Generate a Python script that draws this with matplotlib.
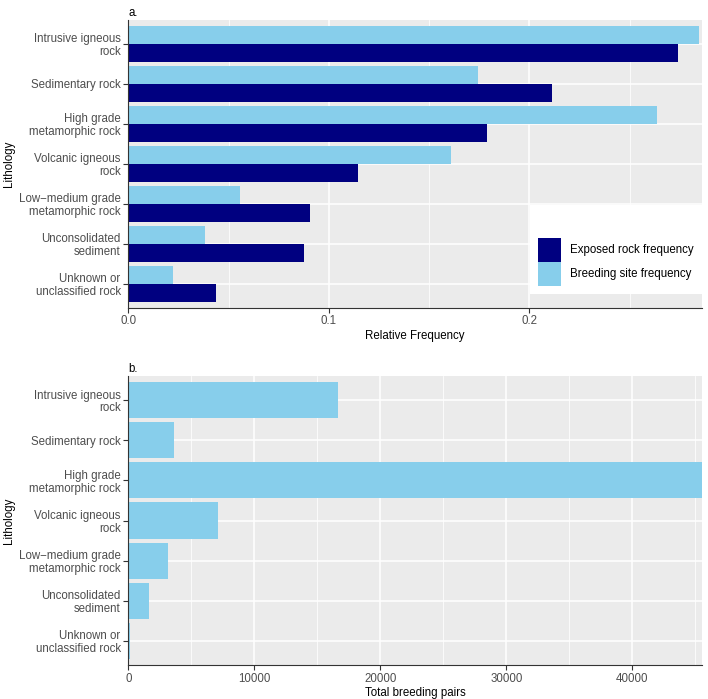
import matplotlib
matplotlib.use("Agg")
import matplotlib.pyplot as plt
import numpy as np
from matplotlib.patches import Rectangle
from matplotlib.ticker import MultipleLocator

lithology = [
    "Intrusive igneous\nrock",
    "Sedimentary rock",
    "High grade\nmetamorphic rock",
    "Volcanic igneous\nrock",
    "Low\u2212medium grade\nmetamorphic rock",
    "Unconsolidated\nsediment",
    "Unknown or\nunclassified rock",
]
exposed_freq = [0.2743, 0.2112, 0.1790, 0.1146, 0.0905, 0.0875, 0.0439]
breeding_freq = [0.2849, 0.1743, 0.2637, 0.1610, 0.0557, 0.0381, 0.0223]
breeding_pairs = [16620, 3650, 45500, 7095, 3130, 1620, 135]
legend_labels = ["Exposed rock frequency", "Breeding site frequency"]

NAVY = "#000080"
SKY = "#87CEEB"
BG = "#EBEBEB"
TXT = "#4D4D4D"
FS = 8.3

plt.rcParams.update({
    "font.family": ["Liberation Sans", "DejaVu Sans"],
    "font.size": FS,
})

W, H = 708, 699
fig = plt.figure(figsize=(W / 100, H / 100), dpi=100)


def box(x0, y0, x1, y1):
    return [x0 / W, 1 - y1 / H, (x1 - x0) / W, (y1 - y0) / H]


def style(ax, xmax, major, minor, fmt):
    ax.set_facecolor(BG)
    for s in ["top", "right"]:
        ax.spines[s].set_visible(False)
    for s in ["left", "bottom"]:
        ax.spines[s].set_color("#333333")
        ax.spines[s].set_linewidth(0.8)
    ax.set_xlim(0, xmax)
    ax.set_ylim(len(lithology) - 0.4, -0.6)
    ax.xaxis.set_major_locator(MultipleLocator(major))
    ax.xaxis.set_minor_locator(MultipleLocator(minor))
    ax.xaxis.set_major_formatter(fmt)
    ax.set_yticks(range(len(lithology)))
    ax.set_yticklabels(lithology, linespacing=1.08)
    ax.grid(which="major", color="white", lw=1.1)
    ax.grid(which="minor", axis="x", color="white", lw=0.55)
    ax.set_axisbelow(True)
    ax.tick_params(which="major", length=3.5, width=0.8, color="#333333",
                   labelcolor=TXT, labelsize=FS, pad=2)
    ax.tick_params(which="minor", length=0)
    ax.set_ylabel("Lithology", fontsize=FS)
    ax.yaxis.set_label_coords((15.5 - 128.3) / 573.4, 0.5)


y = np.arange(len(lithology))
bw = 0.45

# panel a
ax1 = fig.add_axes(box(128.3, 20, 701.7, 307.5))
style(ax1, 0.286, 0.1, 0.05, lambda v, p: f"{v:.1f}")
ax1.barh(y - bw / 2, breeding_freq, height=bw, color=SKY, zorder=2)
ax1.barh(y + bw / 2, exposed_freq, height=bw, color=NAVY, zorder=2)
ax1.set_xlabel("Relative Frequency", fontsize=FS, labelpad=2)
ax1.set_title("a.", loc="left", fontsize=FS, pad=3)

# legend: white box with two square keys
def ax_pt(px, py):
    return (px - 128.3) / 573.4, (307.5 - py) / 287.5

lx0, ly0 = ax_pt(530, 294.3)
ax1.add_patch(Rectangle((lx0, ly0), 1 - lx0, (294.3 - 205) / 287.5,
                        transform=ax1.transAxes, facecolor="white",
                        edgecolor="none", zorder=3))
for i, (lab, col) in enumerate(zip(legend_labels, [NAVY, SKY])):
    top = 237.7 + i * 24.1
    kx, ky = ax_pt(537.7, top + 24.1)
    ax1.add_patch(Rectangle((kx, ky), 23.6 / 573.4, 24.1 / 287.5,
                            transform=ax1.transAxes, facecolor=col,
                            edgecolor="none", zorder=4))
    tx, ty = ax_pt(570, top + 12)
    ax1.text(tx, ty, lab, transform=ax1.transAxes, va="center", ha="left",
             fontsize=FS, color="black", zorder=5)

# panel b
ax2 = fig.add_axes(box(128.3, 376, 701.7, 665))
style(ax2, 45500, 10000, 5000, lambda v, p: f"{v:.0f}")
ax2.barh(y, breeding_pairs, height=0.9, color=SKY, zorder=2)
ax2.set_xlabel("Total breeding pairs", fontsize=FS, labelpad=2)
ax2.set_title("b.", loc="left", fontsize=FS, pad=3)

fig.savefig("out.png", dpi=100)
